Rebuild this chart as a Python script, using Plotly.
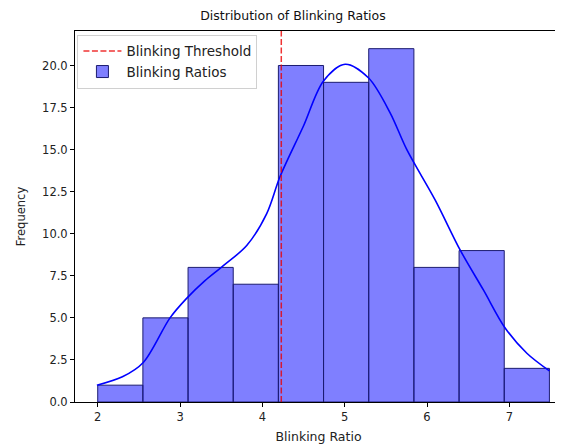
import numpy as np
import plotly.graph_objects as go

# Histogram data
data_min = 2.0
data_max = 7.487
bin_counts = [1, 5, 8, 7, 20, 19, 21, 8, 9, 2]
threshold = 4.23

# KDE curve (scaled to counts)
kde_x = [1.99, 2.3, 2.554, 2.878, 3.08, 3.3, 3.526, 3.81, 4.053, 4.215, 4.498, 4.741, 5.005,
         5.288, 5.552, 5.755, 6.1, 6.402, 6.685, 6.949, 7.213, 7.487]
kde_y = [1.0, 1.5, 2.35, 5.0, 6.16, 7.2, 8.1, 9.3, 11.2, 13.4, 16.39, 19.07, 20.07,
         19.27, 17.19, 15.0, 12.0, 9.04, 6.66, 4.4, 2.9, 1.85]

x_ticks = [2, 3, 4, 5, 6, 7]
y_ticks = [0, 2.5, 5, 7.5, 10, 12.5, 15, 17.5, 20]

edges = np.linspace(data_min, data_max, len(bin_counts) + 1)
centers = (edges[:-1] + edges[1:]) / 2
widths = np.diff(edges)

font = "DejaVu Sans"
fig = go.Figure()
fig.add_trace(go.Bar(
    x=centers, y=bin_counts, width=widths,
    marker=dict(color="rgba(0,0,255,0.5)", line=dict(color="#1c1c70", width=1)),
    name="Blinking Ratios", legendrank=2,
))
fig.add_trace(go.Scatter(
    x=kde_x, y=kde_y, mode="lines",
    line=dict(color="#0000ff", width=1.6, shape="spline", smoothing=0.9),
    showlegend=False, hoverinfo="skip",
))
fig.add_vline(x=threshold, line=dict(color="rgba(235,0,0,0.8)", width=1.5, dash="6px,2.5px"))
fig.add_trace(go.Scatter(
    x=[None], y=[None], mode="lines",
    line=dict(color="rgba(235,0,0,0.8)", width=1.5, dash="6px,2.5px"),
    name="Blinking Threshold", legendrank=1,
))

axis_common = dict(
    showline=True, linecolor="black", linewidth=1, mirror=True,
    ticks="outside", ticklen=4, tickcolor="black", showgrid=False, zeroline=False,
    tickfont=dict(family=font, size=11.5, color="#222"), automargin=False,
)
fig.update_xaxes(range=[1.724, 7.64], tickvals=x_ticks,
                 title=dict(text="Blinking Ratio", font=dict(family=font, size=12.5, color="#222"), standoff=9),
                 **axis_common)
fig.update_yaxes(range=[0, 22.05], tickvals=y_ticks, tickformat=".1f",
                 title=dict(text="Frequency", font=dict(family=font, size=11.5, color="#222"), standoff=14),
                 **axis_common)

# page body has an 8px margin: shift figure size/margins to compensate
fig.update_layout(
    width=555, height=440,
    margin=dict(l=67, r=1, t=23, b=46, autoexpand=False),
    plot_bgcolor="white", paper_bgcolor="white",
    title=dict(text="Distribution of Blinking Ratios", x=285 / 555, xanchor="center",
               y=1 - 8 / 440, yref="container", yanchor="middle", automargin=False,
               font=dict(family=font, size=12.5, color="#111")),
    font=dict(family=font, color="#222"),
    barmode="overlay",
    legend=dict(x=0.005, y=0.99, xanchor="left", yanchor="top",
                bgcolor="rgba(255,255,255,0.8)", bordercolor="#d0d0d0", borderwidth=1,
                font=dict(family=font, size=13.5, color="#222"), tracegroupgap=0, itemwidth=38),
)

fig.write_html("out.html")
